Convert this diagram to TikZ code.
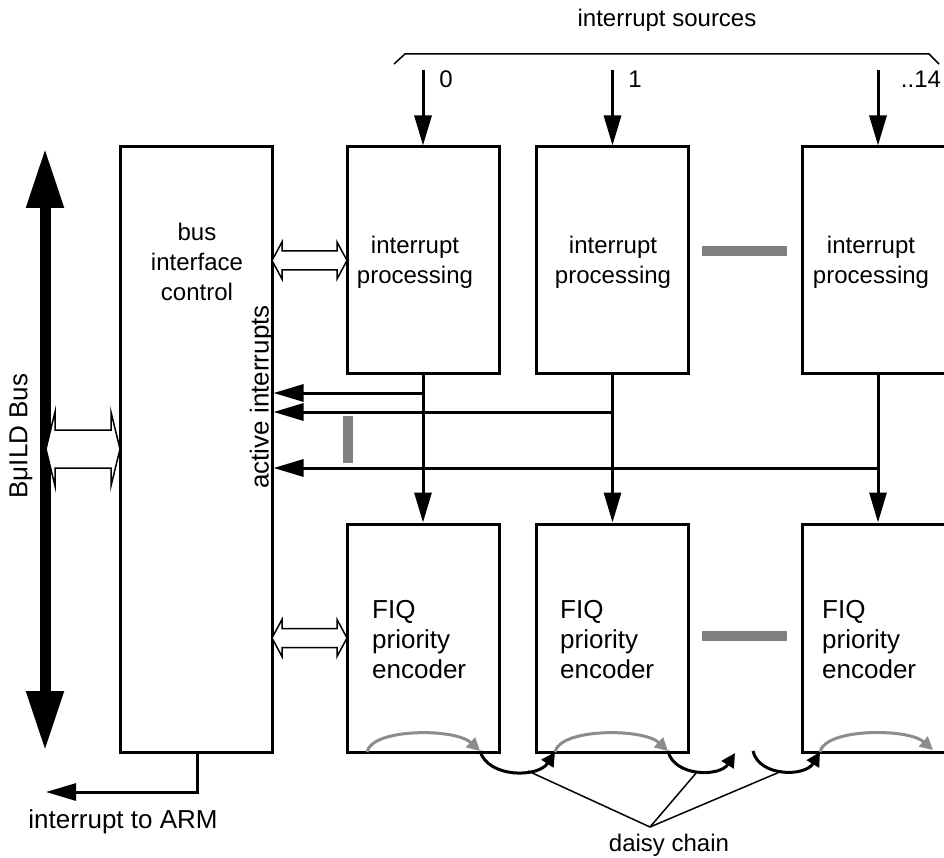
\documentclass[tikz,border=0pt]{standalone}
\usepackage{fontspec}
\setmainfont{Liberation Sans}
\usetikzlibrary{arrows.meta,calc}
\definecolor{bargray}{RGB}{128,128,128}
\definecolor{chaingray}{RGB}{140,140,140}
% hollow two-headed arrow: left x, right x, centre y, shaft half height, head half height, head length
\newcommand{\hollowdbl}[6]{%
  \draw[thinline, fill=white, line join=miter]
    (#1,#3) -- (#1+#6,#3-#5) -- (#1+#6,#3-#4) -- (#2-#6,#3-#4) -- (#2-#6,#3-#5)
    -- (#2,#3) -- (#2-#6,#3+#5) -- (#2-#6,#3+#4) -- (#1+#6,#3+#4) -- (#1+#6,#3+#5) -- cycle;}
\begin{document}
\begin{tikzpicture}[x=1pt,y=-1pt,
  box/.style={draw, line width=3pt, minimum width=152pt, inner sep=0pt},
  lbl/.style={font=\fontsize{24}{30}\selectfont, align=center, inner sep=0pt},
  biglbl/.style={font=\fontsize{26}{30}\selectfont, align=center, inner sep=0pt},
  lbll/.style={font=\fontsize{26}{30}\selectfont, align=left, inner sep=0pt, anchor=west},
  sig/.style={line width=3pt, -{Triangle[length=30pt,width=17pt]}},
  thinline/.style={line width=1.5pt},
  chain/.style={line width=3pt, chaingray, -{Triangle[length=13pt,width=13pt]}},
  link/.style={line width=3pt, -{Triangle[length=14pt,width=14pt]}},
  bar/.style={fill=bargray, draw=none},
]
\clip (0,0) rectangle (944,858);

% main blocks
\node[box, minimum height=605pt] (bic) at (196,449.5) {};
\node[box, minimum height=226pt] (ip0) at (423,260) {};
\node[box, minimum height=226pt] (ip1) at (612.5,260) {};
\node[box, minimum height=226pt] (ip2) at (878,260) {};
\node[box, minimum height=228pt] (fq0) at (423,638) {};
\node[box, minimum height=228pt] (fq1) at (612.5,638) {};
\node[box, minimum height=228pt] (fq2) at (878,638) {};

% block texts
\node[lbl] (bict) at (197,262) {bus\\interface\\control};
\node[biglbl, rotate=90] (act) at (262,397) {active interrupts};
\node[lbl] (ip0t) at (415,262) {interrupt\\processing};
\node[lbl] (ip1t) at (613,262) {interrupt\\processing};
\node[lbl] (ip2t) at (871,262) {interrupt\\processing};
\node[lbll] (fq0t) at (372,640) {FIQ\\priority\\encoder};
\node[lbll] (fq1t) at (560,640) {FIQ\\priority\\encoder};
\node[lbll] (fq2t) at (822,640) {FIQ\\priority\\encoder};

% interrupt sources
\node[lbl] (src) at (667,20) {interrupt sources};
\draw[thinline] (394,64) -- (405,54) -- (929,54) -- (939,64);
\coordinate (s0) at (423,70);
\coordinate (s1) at (612.5,70);
\coordinate (s2) at (878,70);
\draw[sig] (s0) -- (ip0.north);
\draw[sig] (s1) -- (ip1.north);
\draw[sig] (s2) -- (ip2.north);
\node[lbl] (l0) at (446,79) {0};
\node[lbl] (l1) at (635,79) {1};
\node[lbl] (l2) at (921,79) {..14};

% processing to encoder, and active interrupt lines
\draw[sig] (ip0.south) -- (fq0.north);
\draw[sig] (ip1.south) -- (fq1.north);
\draw[sig] (ip2.south) -- (fq2.north);
\draw[sig] (ip0.south |- 0,393) -- (bic.east |- 0,393);
\draw[sig] (ip1.south |- 0,412) -- (bic.east |- 0,412);
\draw[sig] (ip2.south |- 0,468) -- (bic.east |- 0,468);

% ellipsis bars
\fill[bar] (343,416) rectangle (353,463);
\fill[bar] (702,246) rectangle (787,256);
\fill[bar] (702,631) rectangle (787,641);

% register access paths
\hollowdbl{272}{347}{260.5}{9.5}{18.5}{10}
\hollowdbl{272}{347}{638}{9.5}{18.5}{10}

% system bus
\draw[line width=11pt, {Triangle[length=60pt,width=35pt]}-{Triangle[length=60pt,width=35pt]}] (45,148) -- (45,751);
\hollowdbl{46}{120}{449}{19}{37}{9}
\node[biglbl, rotate=90] (bus) at (21,436) {BμILD Bus};

% interrupt output
\coordinate (arm) at (46,792);
\draw[sig] (bic.south -| 197,0) |- (arm);
\node[biglbl] (armt) at (123,822) {interrupt to ARM};

% daisy chain
\draw[chain] (367,752) .. controls (372,728) and (455,728) .. (480,751);
\draw[chain] (555,752) .. controls (560,728) and (643,728) .. (668,751);
\draw[chain] (820,752) .. controls (825,728) and (908,728) .. (933,750);
\draw[link] (480,751) .. controls (488,778) and (538,778) .. (555,752);
\draw[link] (668,751) .. controls (674,777) and (720,777) .. (735,753);
\draw[link] (753,751) .. controls (759,777) and (805,777) .. (820,752);
\coordinate (dc) at (650,827);
\draw[thinline] (dc) -- (528,771);
\draw[thinline] (dc) -- (697,772);
\draw[thinline] (dc) -- (782,771);
\node[lbl] (dct) at (669,845) {daisy chain};
\end{tikzpicture}
\end{document}
